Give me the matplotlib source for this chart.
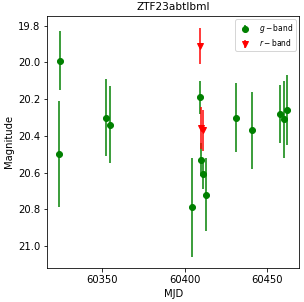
import matplotlib
matplotlib.use("Agg")
import matplotlib.pyplot as plt

g_mjd = [60323.8, 60324.6, 60352.6, 60354.6, 60409.1, 60410.0, 60410.9, 60413.1,
         60404.2, 60431.0, 60440.9, 60457.8, 60459.9, 60461.7]
g_mag = [20.50, 19.99, 20.30, 20.34, 20.19, 20.53, 20.61, 20.72,
         20.79, 20.30, 20.37, 20.28, 20.31, 20.26]
g_err = [0.29, 0.16, 0.21, 0.21, 0.09, 0.09, 0.08, 0.20,
         0.27, 0.19, 0.21, 0.16, 0.21, 0.19]

r_mjd = [60409.1, 60410.0, 60410.9]
r_mag = [19.91, 20.355, 20.37]
r_err = [0.10, 0.115, 0.11]

fig = plt.figure(figsize=(304 / 72, 302 / 72), dpi=72)
ax = fig.add_axes([0.1556, 0.1126, 0.829, 0.8354])

ax.errorbar(g_mjd, g_mag, yerr=g_err, fmt='o', color='green', markersize=6,
            linewidth=1.5, label='$g-$band')
ax.errorbar(r_mjd, r_mag, yerr=r_err, fmt='v', color='red', markersize=6,
            linewidth=1.5, label='$r-$band')

ax.set_xlim(60316.9, 60469.4)
ax.set_ylim(21.12, 19.745)
ax.set_xticks([60350, 60400, 60450])
ax.set_yticks([19.8, 20.0, 20.2, 20.4, 20.6, 20.8, 21.0])
ax.tick_params(labelsize=10)
ax.set_xlabel('MJD', fontsize=10)
ax.set_ylabel('Magnitude', fontsize=10)
ax.set_title('ZTF23abtlbml', fontsize=10.5)
ax.legend(loc='upper right', fontsize=7.5, labelspacing=0.3, borderpad=0.35,
          handleheight=0.5)

fig.savefig('out.png', dpi=72)
